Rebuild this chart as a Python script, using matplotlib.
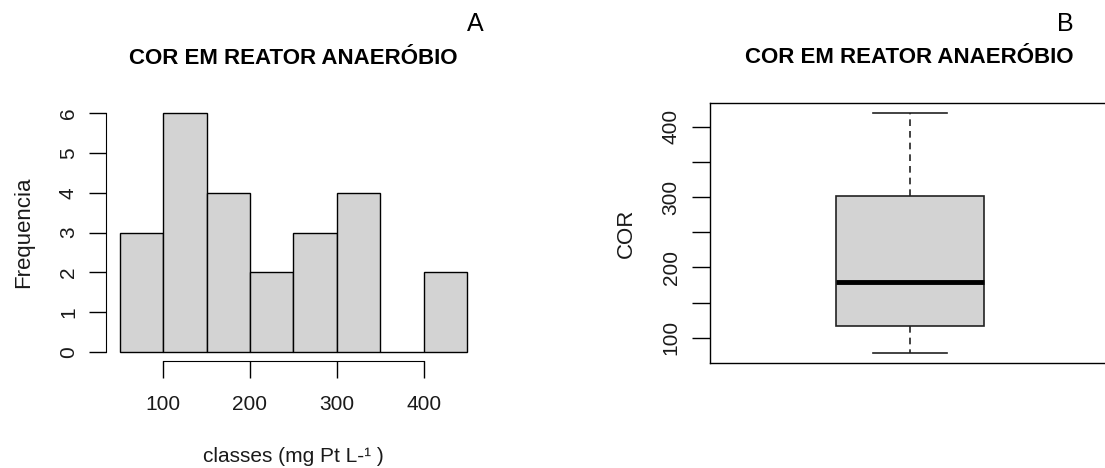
import numpy as np
import matplotlib.pyplot as plt

plt.rcParams['font.family'] = ['Liberation Sans', 'DejaVu Sans']

# Histogram: class edges (mg Pt/L) and counts per class
bin_edges = [50, 100, 150, 200, 250, 300, 350, 400, 450]
counts = [3, 6, 4, 2, 3, 4, 0, 2]
hist_xticks = [100, 200, 300, 400]
hist_yticks = [0, 1, 2, 3, 4, 5, 6]

# Boxplot summary of colour in the anaerobic reactor
cor_min = 78
cor_q1 = 116
cor_median = 179
cor_q3 = 302
cor_max = 420
box_ticks = [100, 150, 200, 250, 300, 350, 400]
box_ticklabels = ['100', '', '200', '', '300', '', '400']

title = 'COR EM REATOR ANAERÓBIO'
fill = '#d3d3d3'
txt = '#1a1a1a'

fig = plt.figure(figsize=(11.05, 4.68), dpi=100)

# --- A: histogram ---
ax1 = fig.add_axes([0.0957, 0.2276, 0.3396, 0.5506])
widths = np.diff(bin_edges)
ax1.bar(bin_edges[:-1], counts, width=widths, align='edge',
        color=fill, edgecolor='black', linewidth=1.0)
ax1.set_xlim(34, 466)
ax1.set_ylim(-0.24, 6.24)
for s in ['top', 'right']:
    ax1.spines[s].set_visible(False)
ax1.spines['left'].set_bounds(0, 6)
ax1.spines['bottom'].set_bounds(100, 400)
ax1.set_xticks(hist_xticks)
ax1.set_yticks(hist_yticks)
ax1.tick_params(axis='both', direction='out', length=12, width=1.0,
                labelsize=15, labelcolor=txt, pad=8)
ax1.tick_params(axis='x', pad=12)
for lab in ax1.get_yticklabels():
    lab.set_rotation(90)
    lab.set_va('center')
ax1.set_xlabel('classes (mg Pt L-¹ )', fontsize=15, color=txt, labelpad=24)
ax1.set_ylabel('Frequencia', fontsize=16, color=txt, labelpad=18)
ax1.set_title(title, fontsize=16, fontweight='bold', pad=29)

# --- B: boxplot ---
ax2 = fig.add_axes([0.6423, 0.2244, 0.362, 0.5556])
stats = [dict(med=cor_median, q1=cor_q1, q3=cor_q3,
              whislo=cor_min, whishi=cor_max, fliers=[])]
ax2.bxp(stats, positions=[1], widths=0.4, capwidths=0.2, patch_artist=True,
        boxprops=dict(facecolor=fill, edgecolor='#222222', linewidth=1.2),
        medianprops=dict(color='black', linewidth=3.5, solid_capstyle='butt'),
        whiskerprops=dict(color='#222222', linewidth=1.2, linestyle=(0, (4, 3))),
        capprops=dict(color='#222222', linewidth=1.2))
ax2.set_xlim(0.46, 1.54)
ax2.set_ylim(64, 434)
ax2.set_xticks([])
ax2.set_yticks(box_ticks)
ax2.set_yticklabels(box_ticklabels)
ax2.tick_params(axis='y', direction='out', length=13, width=1.0,
                labelsize=15, labelcolor=txt, pad=8)
for lab in ax2.get_yticklabels():
    lab.set_rotation(90)
    lab.set_va('center')
for s in ax2.spines.values():
    s.set_linewidth(1.0)
ax2.set_ylabel('COR', fontsize=16, color=txt, labelpad=18)
ax2.set_title(title, fontsize=16, fontweight='bold', pad=29)

# panel letters
fig.text(475 / 1105, 1 - 24 / 468, 'A', fontsize=18, ha='center', va='center')
fig.text(1065 / 1105, 1 - 24 / 468, 'B', fontsize=18, ha='center', va='center')

fig.savefig('out.png', dpi=100)
